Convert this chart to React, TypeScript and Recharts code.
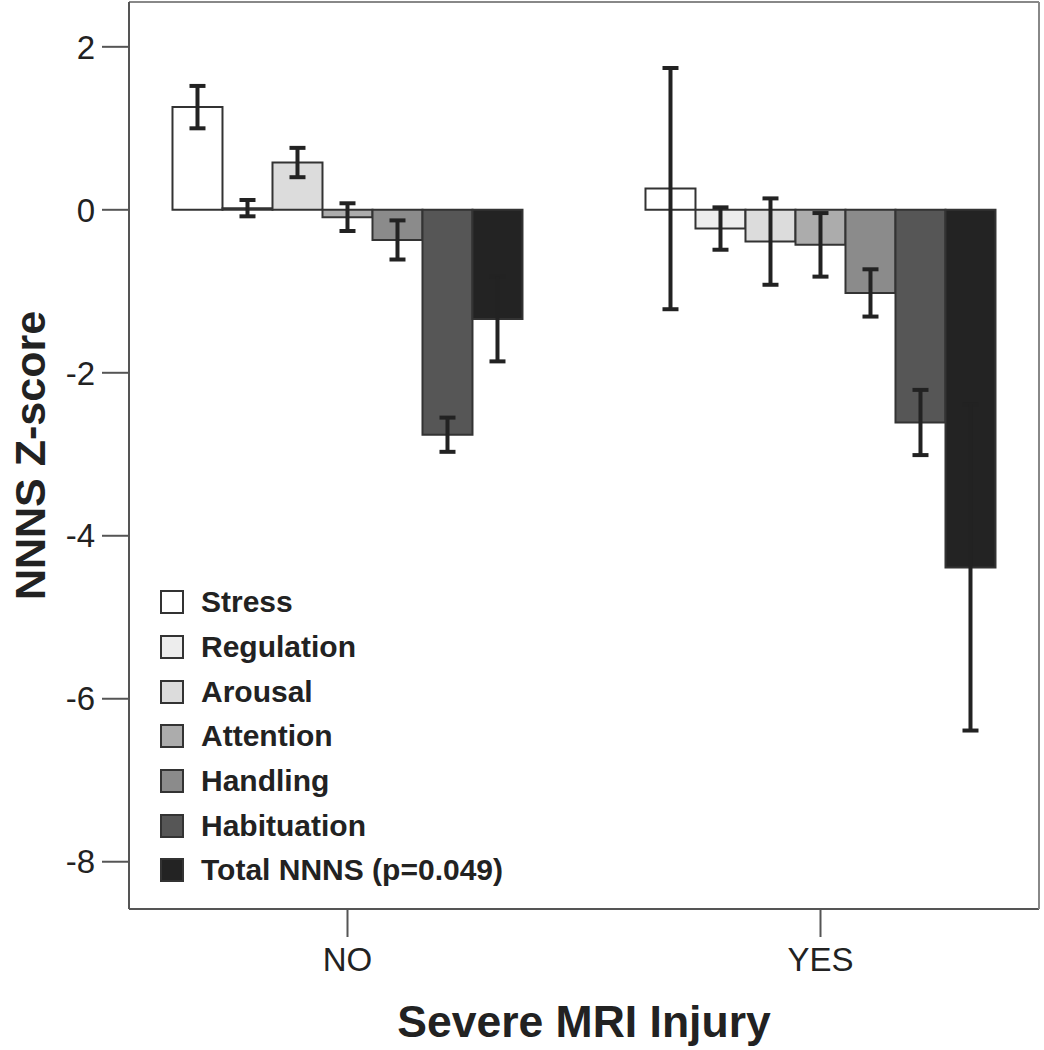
import { BarChart, Bar, XAxis, YAxis, ErrorBar, Legend } from 'recharts';

const categories = ['NO', 'YES'];
const seriesNames = [
  'Stress',
  'Regulation',
  'Arousal',
  'Attention',
  'Handling',
  'Habituation',
  'Total NNNS (p=0.049)',
];
const stress = [1.26, 0.26];
const stressErr = [0.26, 1.48];
const regulation = [0.02, -0.23];
const regulationErr = [0.1, 0.26];
const arousal = [0.58, -0.39];
const arousalErr = [0.18, 0.53];
const attention = [-0.09, -0.43];
const attentionErr = [0.17, 0.39];
const handling = [-0.37, -1.02];
const handlingErr = [0.24, 0.29];
const habituation = [-2.76, -2.61];
const habituationErr = [0.21, 0.4];
const total = [-1.34, -4.39];
const totalErr = [0.52, 2.0];
const yTicks = [2, 0, -2, -4, -6, -8];
const yDomain = [-8.58, 2.55];

const values = [stress, regulation, arousal, attention, handling, habituation, total];
const errors = [stressErr, regulationErr, arousalErr, attentionErr, handlingErr, habituationErr, totalErr];
const fills = ['#ffffff', '#ededed', '#dcdcdc', '#acacac', '#8b8b8b', '#565656', '#232323'];

const data = categories.map((cat, i) => {
  const row: Record<string, string | number> = { cat };
  seriesNames.forEach((_, s) => {
    row['v' + s] = values[s][i];
    row['e' + s] = errors[s][i];
  });
  return row;
});

const renderLegend = (props: any) => {
  const payload = props.payload || [];
  return (
    <div>
      {payload.map((p: any, i: number) => (
        <div
          key={i}
          style={{ display: 'flex', alignItems: 'center', height: 44.7 }}
        >
          <div
            style={{
              width: 20,
              height: 20,
              background: fills[i],
              border: '2px solid #333',
              marginRight: 17,
            }}
          />
          <span style={{ fontSize: 30, fontWeight: 'bold', color: '#222' }}>
            {seriesNames[i]}
          </span>
        </div>
      ))}
    </div>
  );
};

export default function App() {
  return (
    <div
      style={{
        position: 'absolute',
        left: 0,
        top: 0,
        fontFamily: '"Liberation Sans", Arial, sans-serif',
        background: '#fff',
      }}
    >
      <BarChart
        width={1044}
        height={1050}
        data={data}
        margin={{ top: 1, right: 4, left: 0, bottom: 0 }}
        barCategoryGap="13%"
        barGap={0}
      >
        <XAxis
          dataKey="cat"
          height={141}
          padding={{ left: -18, right: -18 }}
          tickSize={28}
          tickMargin={11}
          tick={{ fontSize: 33, fill: '#222' }}
          axisLine={{ stroke: '#555', strokeWidth: 2 }}
          tickLine={{ stroke: '#555', strokeWidth: 2 }}
          label={{
            content: (p: any) => {
              const vb = p.viewBox;
              return (
                <text
                  x={vb.x + vb.width / 2}
                  y={1021}
                  textAnchor="middle"
                  dominantBaseline="central"
                  fontSize={44.5}
                  fontWeight="bold"
                  fill="#222"
                >
                  Severe MRI Injury
                </text>
              );
            },
          }}
        />
        <XAxis
          xAxisId="top"
          dataKey="cat"
          orientation="top"
          height={1}
          tick={false}
          tickLine={false}
          axisLine={{ stroke: '#888', strokeWidth: 2 }}
        />
        <YAxis
          domain={yDomain}
          ticks={yTicks}
          width={129}
          tickSize={27}
          tickMargin={7}
          interval={0}
          allowDataOverflow
          tick={{ fontSize: 33, fill: '#222' }}
          axisLine={{ stroke: '#555', strokeWidth: 2 }}
          tickLine={{ stroke: '#555', strokeWidth: 2 }}
          label={{
            content: (p: any) => {
              const vb = p.viewBox;
              const cy = vb.y + vb.height / 2;
              return (
                <text
                  x={30}
                  y={cy}
                  transform={`rotate(-90 30 ${cy})`}
                  textAnchor="middle"
                  dominantBaseline="central"
                  fontSize={43}
                  fontWeight="bold"
                  fill="#222"
                >
                  NNNS Z-score
                </text>
              );
            },
          }}
        />
        <YAxis
          yAxisId="right"
          orientation="right"
          type="number"
          domain={yDomain}
          allowDataOverflow
          width={1}
          tick={false}
          tickLine={false}
          axisLine={{ stroke: '#888', strokeWidth: 2 }}
        />
        <Legend
          layout="vertical"
          align="center"
          verticalAlign="middle"
          content={renderLegend}
          wrapperStyle={{ left: 160, top: 580, width: 440, height: 320 }}
        />
        {seriesNames.map((name, s) => (
          <Bar
            key={name}
            dataKey={'v' + s}
            name={name}
            fill={fills[s]}
            stroke="#333"
            strokeWidth={2}
            isAnimationActive={false}
          >
            <ErrorBar
              dataKey={'e' + s}
              direction="y"
              width={8}
              stroke="#222"
              strokeWidth={4}
              isAnimationActive={false}
            />
          </Bar>
        ))}
      </BarChart>
    </div>
  );
}
